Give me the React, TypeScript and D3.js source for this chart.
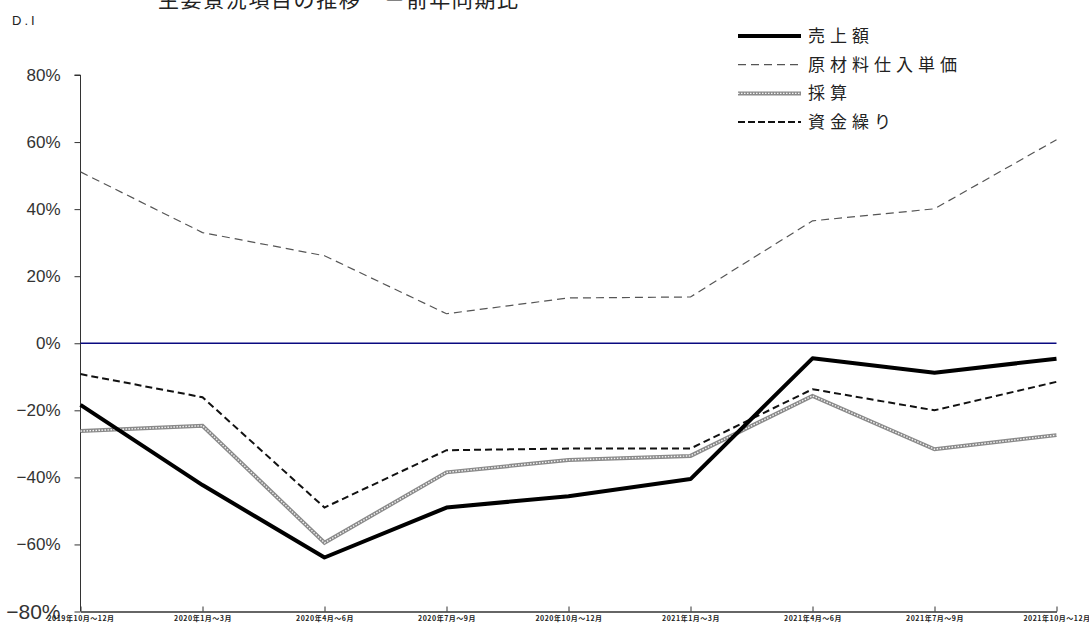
import * as d3 from "d3";
import React, { useEffect, useRef } from "react";

// quarters on the x axis
const quarters = [
  "2019年10月～12月",
  "2020年1月～3月",
  "2020年4月～6月",
  "2020年7月～9月",
  "2020年10月～12月",
  "2021年1月～3月",
  "2021年4月～6月",
  "2021年7月～9月",
  "2021年10月～12月",
];

// D.I values (%)
const sales = [-18.4, -42.3, -63.9, -49.0, -45.6, -40.5, -4.5, -8.8, -4.6];
const materialPrice = [51.1, 33.0, 26.1, 8.8, 13.5, 13.8, 36.5, 40.1, 60.7];
const profit = [-26.2, -24.6, -59.5, -38.5, -34.8, -33.6, -15.7, -31.6, -27.4];
const cashFlow = [-9.2, -16.1, -49.0, -31.9, -31.4, -31.4, -13.7, -20.0, -11.5];

const yTicks = [-80, -60, -40, -20, 0, 20, 40, 60, 80];

const seriesNames = ["売上額", "原材料仕入単価", "採算", "資金繰り"];

const jpFont = "'Noto Sans CJK JP', sans-serif";
const numFont = "'Liberation Sans', 'DejaVu Sans', sans-serif";

const App: React.FC = () => {
  const svgRef = useRef<SVGSVGElement | null>(null);

  useEffect(() => {
    const width = 1089;
    const height = 626;
    const margin = { top: 75, right: 32.5, bottom: 14.5, left: 80.5 };

    const svg = d3.select(svgRef.current);
    svg.selectAll("*").remove();
    svg.attr("width", width).attr("height", height);

    const x = d3
      .scalePoint<string>()
      .domain(quarters)
      .range([margin.left, width - margin.right]);
    const y = d3
      .scaleLinear()
      .domain([-80, 80])
      .range([height - margin.bottom, margin.top]);

    // title (cut off at the top of the picture)
    svg
      .append("text")
      .attr("x", 158)
      .attr("y", 7)
      .attr("font-family", jpFont)
      .attr("font-size", 21)
      .attr("fill", "#222")
      .attr("textLength", 360)
      .attr("lengthAdjust", "spacing")
      .text("主要景況項目の推移　－前年同期比");

    svg
      .append("text")
      .attr("x", 12)
      .attr("y", 25)
      .attr("font-family", numFont)
      .attr("font-size", 13)
      .attr("letter-spacing", 3)
      .attr("fill", "#222")
      .text("D.I");

    // y axis
    const yAxis = svg
      .append("g")
      .attr("transform", `translate(${margin.left},0)`)
      .call(
        d3
          .axisLeft(y)
          .tickValues(yTicks)
          .tickSize(6)
          .tickPadding(14)
          .tickFormat((d) => `${d}%`),
      );
    yAxis.select(".domain").attr("stroke", "#333").attr("d", `M-6,${y(80)}H0V${y(-80)}`);
    yAxis.selectAll(".tick line").attr("stroke", "#333");
    yAxis
      .selectAll(".tick text")
      .attr("font-family", numFont)
      .attr("font-size", (d: any) => (d === -80 ? 21 : 17))
      .attr("fill", "#333")
      .text((d: any) => (d < 0 ? `−${-d}%` : `${d}%`));

    // x axis with ticks pointing upward
    const xAxis = svg
      .append("g")
      .attr("transform", `translate(0,${y(-80)})`)
      .call(d3.axisBottom(x).tickSize(-5).tickSizeOuter(0).tickPadding(5));
    xAxis.select(".domain").attr("stroke", "#333").attr("stroke-width", 1.5);
    xAxis.selectAll(".tick line").attr("stroke", "#333");
    xAxis
      .selectAll(".tick text")
      .attr("font-family", jpFont)
      .attr("font-size", 7)
      .attr("font-weight", "bold")
      .attr("letter-spacing", 0.5)
      .attr("fill", "#222");

    // zero line
    svg
      .append("line")
      .attr("x1", margin.left)
      .attr("x2", width - margin.right)
      .attr("y1", y(0))
      .attr("y2", y(0))
      .attr("stroke", "#0a0a80")
      .attr("stroke-width", 1.6);

    const line = d3
      .line<number>()
      .x((_, i) => x(quarters[i])!)
      .y((d) => y(d));

    // materials price - thin grey dash
    svg
      .append("path")
      .attr("d", line(materialPrice)!)
      .attr("fill", "none")
      .attr("stroke", "#555")
      .attr("stroke-width", 1.2)
      .attr("stroke-dasharray", "8,5");

    // profit - textured grey
    svg
      .append("path")
      .attr("d", line(profit)!)
      .attr("fill", "none")
      .attr("stroke", "#8a8a8a")
      .attr("stroke-width", 4);
    svg
      .append("path")
      .attr("d", line(profit)!)
      .attr("fill", "none")
      .attr("stroke", "#f4f4f4")
      .attr("stroke-width", 1.4)
      .attr("stroke-dasharray", "1.5,1.5");

    // cash flow - black dash
    svg
      .append("path")
      .attr("d", line(cashFlow)!)
      .attr("fill", "none")
      .attr("stroke", "#111")
      .attr("stroke-width", 2)
      .attr("stroke-dasharray", "7,4");

    // sales - thick black
    svg
      .append("path")
      .attr("d", line(sales)!)
      .attr("fill", "none")
      .attr("stroke", "#000")
      .attr("stroke-width", 4)
      .attr("stroke-linejoin", "round");

    // legend
    const legend = svg.append("g").attr("transform", "translate(738,36)");
    const rowH = 28.7;
    seriesNames.forEach((name, i) => {
      const ly = i * rowH;
      const row = legend.append("g");
      if (i === 0) {
        row.append("line").attr("x1", 0).attr("x2", 63).attr("y1", ly).attr("y2", ly)
          .attr("stroke", "#000").attr("stroke-width", 4);
      } else if (i === 1) {
        row.append("line").attr("x1", 0).attr("x2", 63).attr("y1", ly).attr("y2", ly)
          .attr("stroke", "#555").attr("stroke-width", 1.2).attr("stroke-dasharray", "8,5");
      } else if (i === 2) {
        row.append("line").attr("x1", 0).attr("x2", 63).attr("y1", ly).attr("y2", ly)
          .attr("stroke", "#8a8a8a").attr("stroke-width", 4);
        row.append("line").attr("x1", 0).attr("x2", 63).attr("y1", ly).attr("y2", ly)
          .attr("stroke", "#f4f4f4").attr("stroke-width", 1.4).attr("stroke-dasharray", "1.5,1.5");
      } else {
        row.append("line").attr("x1", 0).attr("x2", 63).attr("y1", ly).attr("y2", ly)
          .attr("stroke", "#111").attr("stroke-width", 2).attr("stroke-dasharray", "7,3");
      }
      row
        .append("text")
        .attr("x", 70)
        .attr("y", ly)
        .attr("dy", "0.35em")
        .attr("font-family", jpFont)
        .attr("font-size", 17)
        .attr("letter-spacing", 5)
        .attr("fill", "#222")
        .text(name);
    });
  }, []);

  return (
    <div style={{ position: "absolute", left: 0, top: 0, background: "#fff" }}>
      <svg ref={svgRef}></svg>
    </div>
  );
};

export default App;
